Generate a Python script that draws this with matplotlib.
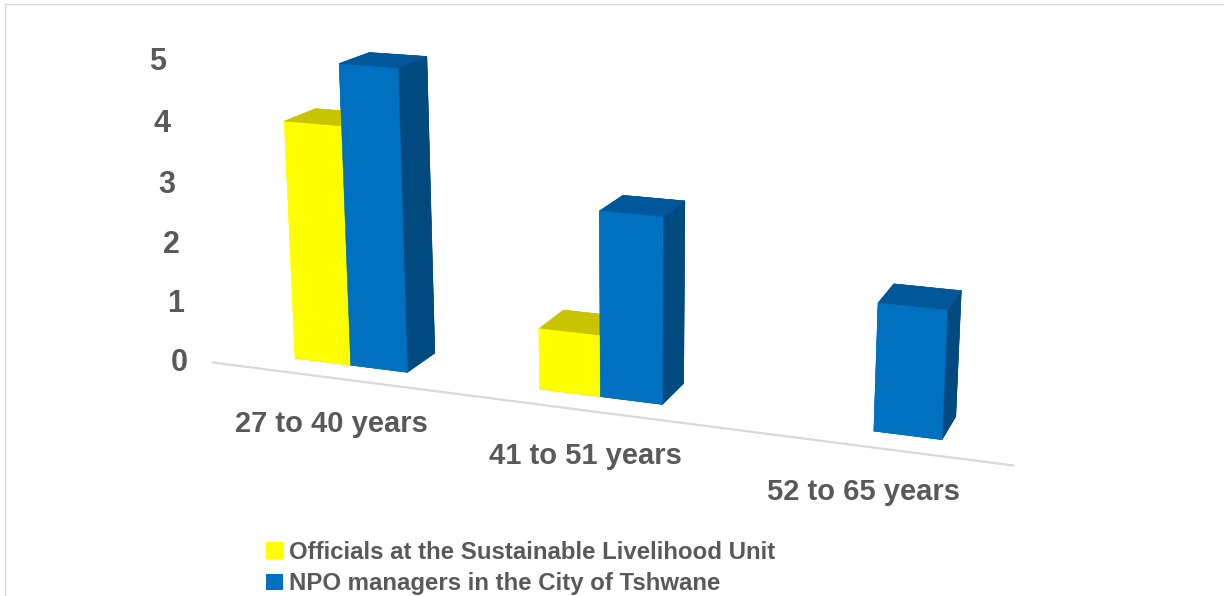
import numpy as np
import matplotlib
matplotlib.use('Agg')
import matplotlib.pyplot as plt
from matplotlib.patches import Patch
from matplotlib.lines import Line2D

categories = ['27 to 40 years', '41 to 51 years', '52 to 65 years']
series_names = ['Officials at the Sustainable Livelihood Unit',
                'NPO managers in the City of Tshwane']
officials = [4, 1, 0]
npo = [5, 3, 2]
value_ticks = [0, 1, 2, 3, 4, 5]

W, H = 1224, 596
plt.rcParams['font.family'] = ['Liberation Sans', 'DejaVu Sans']
TXT = '#595959'

fig = plt.figure(figsize=(W / 100, H / 100), dpi=100)
ax = fig.add_axes([300 / W, 0, 600 / W, 600 / H], projection='3d')
ax.set_proj_type('persp', focal_length=0.42)
ax.view_init(elev=15, azim=-70)
ax.set_xlim(-0.5, 2.5)
ax.set_ylim(0, 1)
ax.set_zlim(0, 5)
ax.set_box_aspect((3, 1, 1.145))
ax.set_axis_off()

# face colours: bottom, top, front, back, left, right
face_sets = [
    ['#C8C400', '#C8C400', '#FFFF00', '#C8C400', '#FFFF00', '#A8A400'],
    ['#00589A', '#00589A', '#0070C0', '#004A80', '#0070C0', '#004A80'],
]
bw, bd, yfront = 0.235, 0.235, 0.15
xs, ys, zs, dxs, dys, dzs, cols = [], [], [], [], [], [], []
for s, vals in enumerate([officials, npo]):
    for i, v in enumerate(vals):
        if v <= 0:
            continue
        xs.append(i - bw + s * bw)
        ys.append(yfront)
        zs.append(0)
        dxs.append(bw)
        dys.append(bd)
        dzs.append(v)
        cols.extend(face_sets[s])
ax.bar3d(xs, ys, zs, dxs, dys, dzs, color=cols, edgecolor=cols,
         linewidth=0.4, shade=False)
ax.plot([-0.5, 2.5], [0, 0], [0, 0], color='#D9D9D9', lw=1.6)


def proj(x, y, z):
    M = ax.get_proj()
    v = M @ np.array([x, y, z, 1.0])
    return ax.transData.transform((v[0] / v[3], v[1] / v[3]))


# fit axes placement so that floor line lands on target pixels
fig.canvas.draw()
bb = ax.bbox
anchors = [(-0.5, 0, 0), (2.5, 0, 0)]
targets = [(213, H - 363), (1013, H - 465)]
A, b = [], []
for p, t in zip(anchors, targets):
    d = proj(*p)
    ux = (d[0] - bb.x0) / bb.width
    uy = (d[1] - bb.y0) / bb.height
    A.append([1, 0, ux]); b.append(t[0])
    A.append([0, 1, uy]); b.append(t[1])
ox, oy, S = np.linalg.lstsq(np.array(A), np.array(b), rcond=None)[0]
ax.set_position([ox / W, oy / H, S / W, S / H])
fig.canvas.draw()

for i, c in enumerate(categories):
    d = proj(i, 0, 0)
    fig.text(d[0] / W, (d[1] - 46) / H, c, ha='center', va='center',
             fontsize=21, fontweight='bold', color=TXT)
for k in value_ticks:
    d = proj(-0.5, 0, k)
    fig.text((d[0] - 25 - 1 * k) / W, d[1] / H, str(k), ha='right', va='center',
             fontsize=22, fontweight='bold', color=TXT)

fig.legend(handles=[Patch(facecolor='#FFFF00'), Patch(facecolor='#0070C0')],
           labels=series_names, loc='upper left',
           bbox_to_anchor=(266 / W, 1 - 541 / H), frameon=False,
           prop={'weight': 'bold', 'size': 17.3}, labelcolor=TXT,
           handlelength=0.7, handleheight=0.7, handletextpad=0.25,
           labelspacing=0.35, borderpad=0, borderaxespad=0)

fig.add_artist(Line2D([5 / W, 5 / W], [0, 1 - 4 / H], transform=fig.transFigure,
                      color='#D9D9D9', lw=1))
fig.add_artist(Line2D([5 / W, 1], [1 - 4 / H, 1 - 4 / H], transform=fig.transFigure,
                      color='#D9D9D9', lw=1))

fig.savefig('out.png', dpi=100)
